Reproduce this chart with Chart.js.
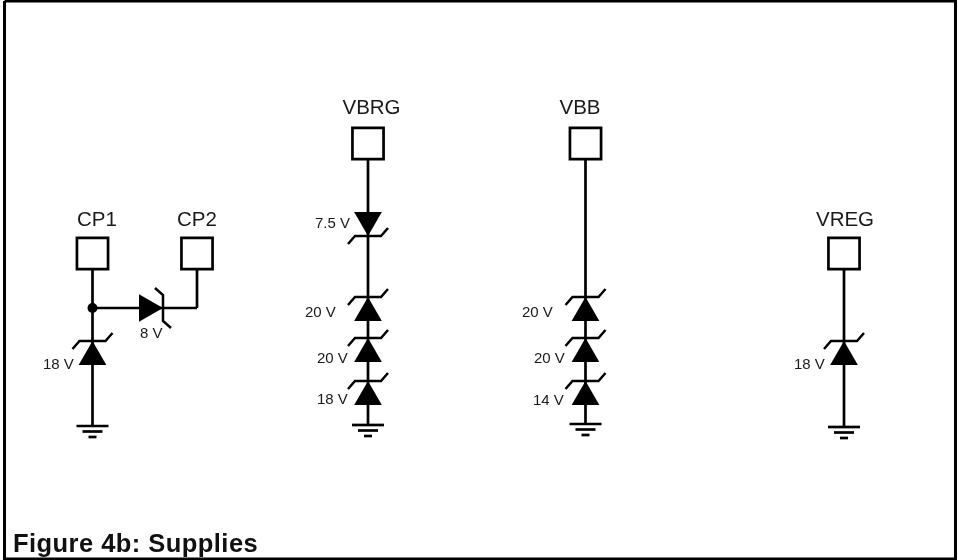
<!DOCTYPE html>
<html>
<head>
<meta charset="utf-8">
<title>Figure 4b: Supplies</title>
<script src="https://cdn.jsdelivr.net/npm/chart.js@4"></script>
<style>
	html, body { margin: 0; padding: 0; background: #fff; }
	canvas { display: block; }
</style>
</head>
<body>
<canvas id="chartContainer" width="959" height="560"></canvas>
<script>
// pads
const padNames = ["CP1", "CP2", "VBRG", "VBB", "VREG"];
const padX = [92.5, 197, 368, 585.5, 844];
const padY = [253.5, 253.5, 143.5, 143.5, 253.5];
const padNameX = [97, 197, 371.5, 580, 845];
const padNameY = [220, 220, 108, 108, 220];

// zener diodes: tip position, and which way the triangle points
const zenerX = [92.5, 163, 368, 368, 368, 368, 585.5, 585.5, 585.5, 844];
const zenerY = [341, 308, 236, 297, 338, 381, 297, 338, 381, 341];
const zenerDir = ["up", "right", "down", "up", "up", "up", "up", "up", "up", "up"];
const zenerLabels = ["18 V", "8 V", "7.5 V", "20 V", "20 V", "18 V", "20 V", "20 V", "14 V", "18 V"];
const zenerLabelX = [43, 140, 315, 305, 317, 317, 522, 534, 533, 794];
const zenerLabelY = [365, 334, 224, 313, 359, 400, 313, 359, 401, 365];

// wires: x1, y1, x2, y2
const wires = [
	[92.5, 269, 92.5, 426],
	[92.5, 308, 197, 308],
	[197, 308, 197, 269],
	[368, 159, 368, 425],
	[585.5, 159, 585.5, 424],
	[844, 269, 844, 427],
];
const junctionX = [92.5];
const junctionY = [308];

// grounds
const groundX = [92.5, 368, 585.5, 844];
const groundY = [426, 425, 424, 427];

const frameX = [4.5, 955.5, 955.5, 4.5, 4.5];
const frameY = [1, 1, 559, 559, 1];

const figureTitle = "Figure 4b: Supplies";

const INK = "#000";
const TEXT = "#1a1a1a";

function line(points, width) {
	return {
		type: "scatter",
		showLine: true,
		data: points,
		borderColor: INK,
		borderWidth: width || 2.7,
		pointRadius: 0,
		clip: false,
	};
}

function zenerDatasets() {
	const sets = [];
	// offsets are written for a diode pointing up and then turned
	const turn = { up: [1, 0], right: [0, 1], down: [-1, 0] };
	const rotation = { up: 0, right: 90, down: 180 };
	zenerX.forEach((x, i) => {
		const [c, s] = turn[zenerDir[i]];
		const at = (dx, dy) => ({ x: x + dx * c - dy * s, y: zenerY[i] + dx * s + dy * c });
		sets.push(line([at(-20, 8), at(-13, 0), at(13, 0), at(20, -8)], 2.5));
		sets.push({
			type: "scatter",
			data: [at(0, 16)],
			pointStyle: "triangle",
			pointRadius: 16,
			pointRotation: rotation[zenerDir[i]],
			backgroundColor: INK,
			borderWidth: 0,
			clip: false,
		});
	});
	return sets;
}

function groundDatasets() {
	const sets = [];
	groundX.forEach((x, i) => {
		const y = groundY[i];
		sets.push(line([{ x: x - 16, y: y }, { x: x + 16, y: y }]));
		sets.push(line([{ x: x - 10, y: y + 5.5 }, { x: x + 10, y: y + 5.5 }]));
		sets.push(line([{ x: x - 4, y: y + 11 }, { x: x + 4, y: y + 11 }]));
	});
	return sets;
}

const labelPlugin = {
	id: "labels",
	afterDraw(chart) {
		const ctx = chart.ctx;
		const sx = chart.scales.x;
		const sy = chart.scales.y;
		ctx.save();
		ctx.fillStyle = TEXT;
		ctx.textBaseline = "middle";

		ctx.textAlign = "center";
		ctx.font = "20.5px 'Liberation Sans'";
		padNames.forEach((name, i) => {
			ctx.fillText(name, sx.getPixelForValue(padNameX[i]), sy.getPixelForValue(padNameY[i]));
		});

		ctx.textAlign = "left";
		ctx.font = "15px 'Liberation Sans'";
		zenerLabels.forEach((name, i) => {
			ctx.fillText(name, sx.getPixelForValue(zenerLabelX[i]), sy.getPixelForValue(zenerLabelY[i]));
		});

		ctx.fillStyle = "#111";
		ctx.font = "bold 25.5px 'Liberation Sans'";
		ctx.letterSpacing = "0.45px";
		ctx.fillText(figureTitle, sx.getPixelForValue(13), sy.getPixelForValue(544.5));
		ctx.restore();
	},
};

new Chart(document.getElementById("chartContainer"), {
	type: "scatter",
	data: {
		datasets: [
			line(frameX.map((x, i) => ({ x: x, y: frameY[i] })), 3),
			...wires.map((w) => line([{ x: w[0], y: w[1] }, { x: w[2], y: w[3] }])),
			...zenerDatasets(),
			...groundDatasets(),
			{
				type: "scatter",
				data: junctionX.map((x, i) => ({ x: x, y: junctionY[i] })),
				pointStyle: "circle",
				pointRadius: 5,
				backgroundColor: INK,
				borderWidth: 0,
				clip: false,
			},
			{
				type: "scatter",
				data: padX.map((x, i) => ({ x: x, y: padY[i] })),
				pointStyle: "rect",
				pointRadius: 22,
				backgroundColor: "#fff",
				borderColor: INK,
				borderWidth: 2.7,
				clip: false,
			},
		],
	},
	options: {
		responsive: false,
		animation: false,
		layout: { padding: 0, autoPadding: false },
		events: [],
		plugins: { legend: { display: false }, tooltip: { enabled: false }, title: { display: false } },
		scales: {
			x: { type: "linear", display: false, min: 0, max: 959 },
			y: { type: "linear", display: false, min: 0, max: 560, reverse: true },
		},
	},
	plugins: [labelPlugin],
});
</script>
</body>
</html>
